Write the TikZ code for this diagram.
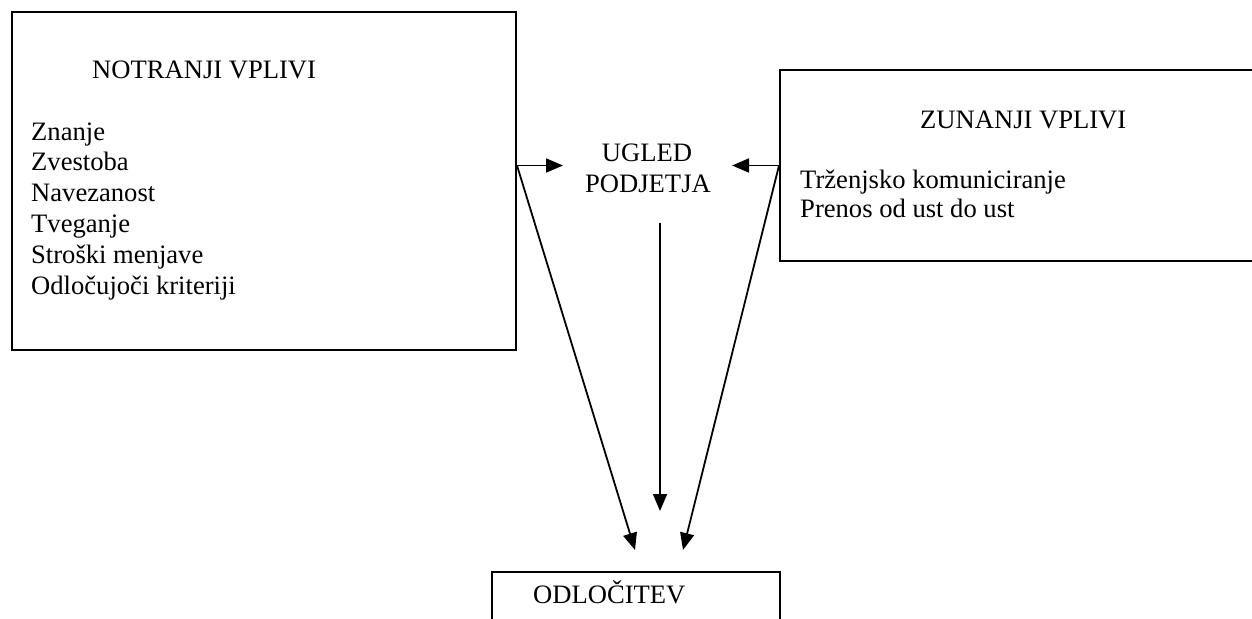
\documentclass[tikz,border=0pt]{standalone}
\usepackage{fontspec}
\setmainfont{Liberation Serif}
\usetikzlibrary{arrows.meta}
\begin{document}
\begin{tikzpicture}[x=1pt,y=-1pt,
  box/.style={draw,line width=2pt,inner sep=0pt},
  txt/.style={inner sep=0pt,font=\fontsize{26.6}{30.8}\selectfont},
  arr/.style={-{Triangle[length=17pt,width=14pt]},line width=1.8pt}]
\clip (0,0) rectangle (1252,618);
% boxes
\node[box,minimum width=504pt,minimum height=338pt] (notr) at (264,181) {};
\node[box,minimum width=492pt,minimum height=191pt] (zun) at (1026,165.5) {};
\node[box,minimum width=288pt,minimum height=100pt] (odl) at (636,622) {};
% texts
\node[txt,anchor=base west] (nt) at (92,78) {NOTRANJI VPLIVI};
\foreach \t [count=\i] in {Znanje,Zvestoba,Navezanost,Tveganje,Stroški menjave,Odločujoči kriteriji}
  \node[txt,anchor=base west] (nl\i) at (31,{140+30.8*(\i-1)}) {\t};
\node[txt,anchor=base west] (zt) at (920,128) {ZUNANJI VPLIVI};
\node[txt,anchor=base west] (zl1) at (800,188) {Trženjsko komuniciranje};
\node[txt,anchor=base west] (zl2) at (800,217) {Prenos od ust do ust};
\node[txt,anchor=base] (ug1) at (647,161) {UGLED};
\node[txt,anchor=base] (ug2) at (648,192) {PODJETJA};
\node[txt,anchor=base west] (ot) at (533,603) {ODLOČITEV};
% connector ends
\coordinate (ugl) at (563,165.5);
\coordinate (ugr) at (732,165.5);
\coordinate (vtop) at (660,223);
\coordinate (vtip) at (660,511);
\coordinate (dl) at (635,550);
\coordinate (dr) at (683,550);
% connectors
\draw[arr] (notr.east |- zun.west) -- (ugl);
\draw[arr] (zun.west) -- (ugr);
\draw[arr] (vtop) -- (vtip);
\draw[arr] (notr.east |- zun.west) -- (dl);
\draw[arr] (zun.west) -- (dr);
\end{tikzpicture}
\end{document}
